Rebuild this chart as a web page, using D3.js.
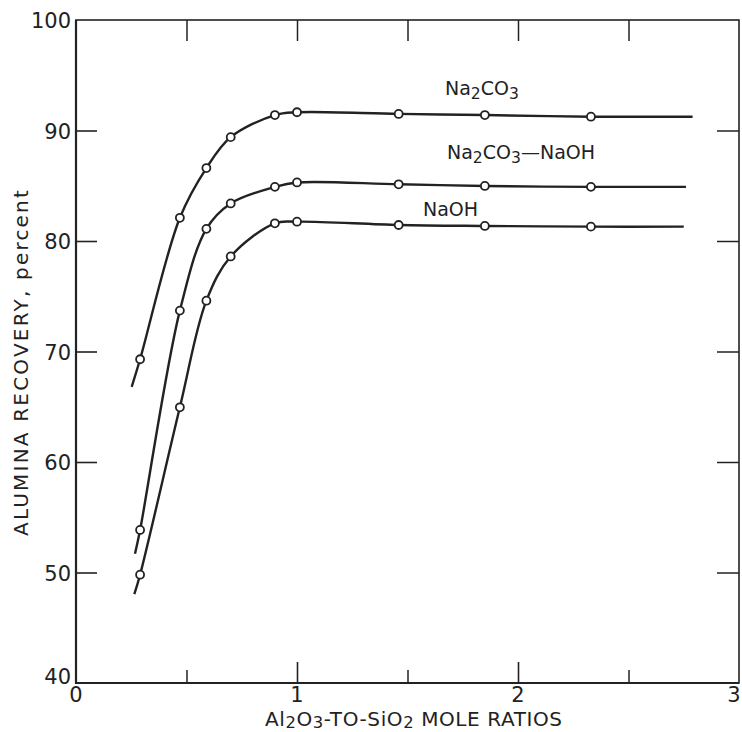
<!DOCTYPE html>
<html>
<head>
<meta charset="utf-8">
<script src="https://cdn.jsdelivr.net/npm/d3@7"></script>
<style>
  body { margin: 0; background: #fff; }
  svg text { font-family: "DejaVu Sans", "Liberation Sans", sans-serif; fill: #222; }
</style>
</head>
<body>
<svg></svg>
<script>
// mole ratios where samples were taken
var ratios = [0.29, 0.47, 0.59, 0.70, 0.90, 1.00, 1.46, 1.85, 2.33];
var na2co3 = [69.3, 82.1, 86.6, 89.4, 91.4, 91.65, 91.5, 91.4, 91.25];
var mixed = [53.85, 73.7, 81.1, 83.4, 84.9, 85.3, 85.13, 84.98, 84.9];
var naoh = [49.8, 64.95, 74.6, 78.6, 81.6, 81.75, 81.45, 81.36, 81.3];

// where each drawn curve begins and ends
var curveStart = [[0.252, 66.8], [0.267, 51.7], [0.264, 48.05]];
var curveEnd = [[2.79, 91.25], [2.76, 84.9], [2.75, 81.3]];

var yTicks = [40, 50, 60, 70, 80, 90, 100];
var xMajor = [0, 1, 2, 3];
var xMinor = [0.5, 1.5, 2.5];

var width = 742, height = 732;
var ink = "#222";

var svg = d3.select("svg")
    .attr("width", width)
    .attr("height", height);

var x = d3.scaleLinear().domain([0, 3]).range([76, 739]);
var y = d3.scaleLinear().domain([40, 100]).range([683, 20]);

// frame
svg.append("rect")
    .attr("x", x(0)).attr("y", y(100))
    .attr("width", x(3) - x(0)).attr("height", y(40) - y(100))
    .attr("fill", "none").attr("stroke", ink).attr("stroke-width", 1.6);
svg.append("path")
    .attr("d", "M" + x(0) + "," + y(100) + "V" + y(40) + "H" + x(3))
    .attr("fill", "none").attr("stroke", ink).attr("stroke-width", 2.2);

// left axis
var leftAxis = svg.append("g")
    .attr("transform", "translate(" + x(0) + ",0)")
    .call(d3.axisRight(y).tickValues(yTicks.slice(1, -1)).tickSize(21).tickFormat(""));
leftAxis.select(".domain").remove();
leftAxis.selectAll("line").attr("stroke", ink).attr("stroke-width", 1.6);

svg.selectAll(".ylab")
    .data(yTicks)
    .enter().append("text")
    .attr("class", "ylab")
    .attr("x", x(0) - 5)
    .attr("y", d => y(d) + (d == 40 ? 1 : 8))
    .attr("text-anchor", "end")
    .attr("font-size", 21)
    .text(d => d);

// right axis
var rightAxis = svg.append("g")
    .attr("transform", "translate(" + x(3) + ",0)")
    .call(d3.axisLeft(y).tickValues(yTicks.slice(1, -1)).tickSize(22).tickFormat(""));
rightAxis.select(".domain").remove();
rightAxis.selectAll("line").attr("stroke", ink).attr("stroke-width", 1.5);

// bottom axis
var bottomAxis = svg.append("g")
    .attr("transform", "translate(0," + y(40) + ")")
    .call(d3.axisTop(x).tickValues([1, 2]).tickSize(21).tickFormat(""));
bottomAxis.select(".domain").remove();
bottomAxis.selectAll("line").attr("stroke", ink).attr("stroke-width", 1.6);

var bottomMinor = svg.append("g")
    .attr("transform", "translate(0," + y(40) + ")")
    .call(d3.axisTop(x).tickValues(xMinor).tickSize(13).tickFormat(""));
bottomMinor.select(".domain").remove();
bottomMinor.selectAll("line").attr("stroke", ink).attr("stroke-width", 1.5);

svg.selectAll(".xlab")
    .data(xMajor)
    .enter().append("text")
    .attr("class", "xlab")
    .attr("x", d => d == 3 ? x(d) - 5 : x(d))
    .attr("y", 702)
    .attr("text-anchor", "middle")
    .attr("font-size", 21)
    .text(d => d);

// top axis
var topAxis = svg.append("g")
    .attr("transform", "translate(0," + y(100) + ")")
    .call(d3.axisBottom(x).tickValues([0.5, 1, 1.5, 2, 2.5]).tickSize(21).tickFormat(""));
topAxis.select(".domain").remove();
topAxis.selectAll("line").attr("stroke", ink).attr("stroke-width", 1.5);

// axis titles
svg.append("text")
    .attr("transform", "translate(28,362) rotate(-90)")
    .attr("text-anchor", "middle")
    .attr("font-size", 20)
    .attr("letter-spacing", 2.2)
    .text("ALUMINA RECOVERY, percent");

// subscripted label: parts alternate between normal and subscript text
function chem(parts, px, py, size, drop, spacing) {
    var t = svg.append("text").attr("x", px).attr("y", py)
        .attr("font-size", size).attr("letter-spacing", spacing || 0);
    var low = false;
    parts.forEach(function(p) {
        var ts = t.append("tspan").text(p.s);
        if (p.sub && !low) { ts.attr("dy", drop).attr("font-size", size * 0.82); low = true; }
        else if (p.sub) { ts.attr("font-size", size * 0.82); }
        else if (low) { ts.attr("dy", -drop); low = false; }
    });
    return t;
}

chem([{s: "Al"}, {s: "2", sub: true}, {s: "O"}, {s: "3", sub: true}, {s: "-TO-SiO"}, {s: "2", sub: true},
      {s: " MOLE RATIOS"}], 265, 726, 20, 2, 0.6);

// curves and markers
var series = [na2co3, mixed, naoh];
var line = d3.line()
    .x(d => x(d[0]))
    .y(d => y(d[1]))
    .curve(d3.curveCatmullRom.alpha(0.5));

series.forEach(function(vals, i) {
    var pts = ratios.map((r, j) => [r, vals[j]]);
    var path = [curveStart[i]].concat(pts).concat([curveEnd[i]]);

    svg.append("path")
        .attr("d", line(path))
        .attr("fill", "none")
        .attr("stroke", ink)
        .attr("stroke-width", 2.4);

    svg.selectAll(".pt" + i)
        .data(pts)
        .enter().append("circle")
        .attr("class", "pt" + i)
        .attr("cx", d => x(d[0]))
        .attr("cy", d => y(d[1]))
        .attr("r", 4)
        .attr("fill", "#fff")
        .attr("stroke", ink)
        .attr("stroke-width", 1.8);
});

// series labels
chem([{s: "Na"}, {s: "2", sub: true}, {s: "CO"}, {s: "3", sub: true}], 445, 95, 19, 4);
chem([{s: "Na"}, {s: "2", sub: true}, {s: "CO"}, {s: "3", sub: true}, {s: "\u2014NaOH"}], 447, 159, 19, 4);
chem([{s: "NaOH"}], 423, 216, 19, 4);
</script>
</body>
</html>
